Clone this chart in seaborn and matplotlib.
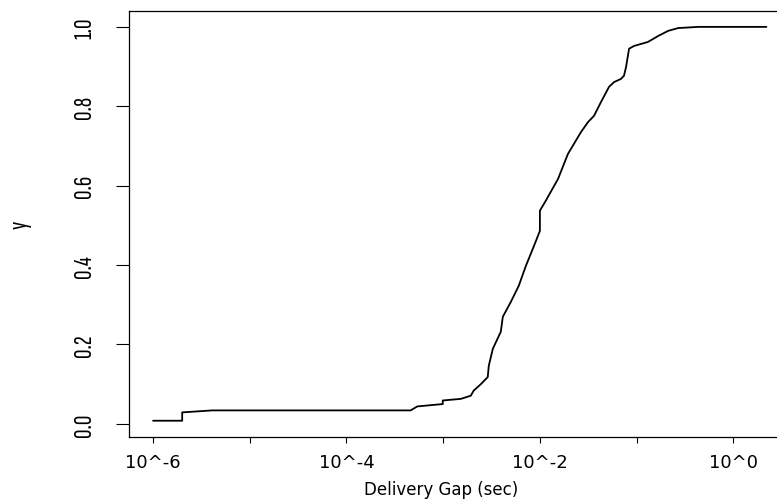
import numpy as np
import pandas as pd
import matplotlib
matplotlib.use("Agg")
import matplotlib.pyplot as plt
import seaborn as sns

# CDF of delivery gaps
gap_sec = [1.0e-6, 2.0e-6, 2.0e-6, 4.1e-6, 4.6e-4, 5.4e-4, 9.9e-4, 9.9e-4,
           1.52e-3, 1.93e-3, 2.07e-3, 2.45e-3, 2.89e-3, 2.96e-3, 3.26e-3,
           3.94e-3, 4.14e-3, 5.0e-3, 6.05e-3, 7.16e-3, 8.45e-3, 1.0e-2,
           1.0e-2, 1.15e-2, 1.54e-2, 1.95e-2, 2.66e-2, 3.14e-2, 3.63e-2,
           4.29e-2, 5.19e-2, 5.85e-2, 6.90e-2, 7.41e-2, 7.78e-2, 8.36e-2,
           9.42e-2, 0.131, 0.167, 0.212, 0.269, 0.434, 2.20]
cdf = [0.008, 0.008, 0.029, 0.034, 0.034, 0.044, 0.050, 0.059,
       0.063, 0.071, 0.084, 0.100, 0.118, 0.146, 0.189,
       0.232, 0.270, 0.307, 0.348, 0.398, 0.441, 0.486,
       0.537, 0.562, 0.617, 0.680, 0.735, 0.760, 0.776,
       0.811, 0.849, 0.861, 0.869, 0.877, 0.899, 0.945,
       0.952, 0.962, 0.977, 0.990, 0.997, 1.000, 1.000]

x_ticks = [1e-6, 1e-5, 1e-4, 1e-3, 1e-2, 1e-1, 1e0]
x_tick_labels = ["10^-6", "", "10^-4", "", "10^-2", "", "10^0"]
y_ticks = [0.0, 0.2, 0.4, 0.6, 0.8, 1.0]
y_tick_labels = ["0.0", "0.2", "0.4", "0.6", "0.8", "1.0"]

df = pd.DataFrame({"gap": gap_sec, "y": cdf})

sns.set_theme(style="ticks")
plt.rcParams["font.family"] = ["DejaVu Sans"]
narrow = ["Sofia Sans Extra Condensed", "Roboto Condensed", "DejaVu Sans"]

fig = plt.figure(figsize=(7.77, 5.02), dpi=100)
ax = fig.add_axes([129 / 777, 64 / 502, 648 / 777, 426 / 502])

sns.lineplot(data=df, x="gap", y="y", estimator=None, sort=False,
             color="black", linewidth=1.3, ax=ax)

ax.set_xscale("log")
ax.set_xlim(10 ** -6.249, 10 ** 0.452)
ax.set_ylim(-0.033, 1.040)

ax.set_xticks(x_ticks)
ax.set_xticklabels(x_tick_labels, fontsize=13)
ax.minorticks_off()
ax.set_yticks(y_ticks)
ax.set_yticklabels(y_tick_labels, fontsize=19, family=narrow)
for lab in ax.get_yticklabels():
    lab.set_rotation(90)
    lab.set_va("center")

ax.tick_params(axis="x", length=4.3, width=0.8, pad=7, colors="black")
ax.tick_params(axis="y", length=9.4, width=0.8, pad=14, colors="black")

for side in ["left", "bottom", "top"]:
    ax.spines[side].set_color("black")
    ax.spines[side].set_linewidth(0.9)
ax.spines["right"].set_visible(False)

ax.set_xlabel("Delivery Gap (sec)", fontsize=12, color="black")
ax.xaxis.set_label_coords(0.481, -0.102)
ax.set_ylabel("y", fontsize=19, family=narrow, color="black")
ax.yaxis.set_label_coords(-0.150, 0.5)

fig.savefig("out.png", dpi=100)
